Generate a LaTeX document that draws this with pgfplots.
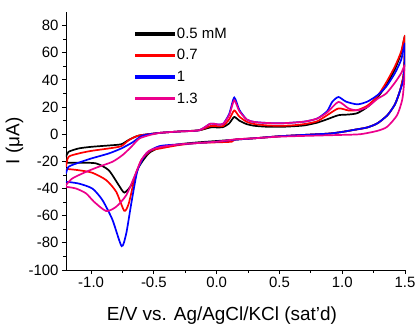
\documentclass[border=0pt]{standalone}
\usepackage{fontspec}
\setmainfont{Liberation Sans}
\usepackage{pgfplots}
\pgfplotsset{compat=1.18}
\begin{document}
\begin{tikzpicture}
\begin{axis}[
  name=ax,
  at={(0,0)}, anchor=south west,
  scale only axis,
  width=339bp, height=258bp,
  xmin=-1.2, xmax=1.5, ymin=-100, ymax=90,
  axis lines*=left,
  axis line style={line width=0.8bp},
  tick align=outside,
  tick style={black, line width=0.8bp},
  major tick length=4bp, minor tick length=2.5bp,
  xtick={-1.0,-0.5,0.0,0.5,1.0,1.5},
  minor x tick num=1,
  ytick={-100,-80,-60,-40,-20,0,20,40,60,80},
  minor y tick num=1,
  xticklabel style={/pgf/number format/.cd, fixed, fixed zerofill, precision=1},
  /pgf/number format/assume math mode=true,
  ticklabel style={font=\fontsize{15}{18}\selectfont},
  xlabel={E/V vs. Ag/AgCl/KCl (sat'd)},
  ylabel={I (μA)},
  label style={font=\fontsize{19}{22}\selectfont},
  xlabel style={at={(axis description cs:0.46,0)}, anchor=center, yshift=-46bp},
  ylabel style={at={(axis description cs:-0.152,0.5)}, anchor=center, rotate=0},
  legend style={at={(axis description cs:0.195,0.955)}, anchor=north west, draw=none, fill=none,
     font=\fontsize{15}{18}\selectfont, row sep=5.8bp},
  legend cell align=left,
  legend image code/.code={\fill[#1] (0bp,-0.9bp) rectangle (38bp,0.9bp);},
]
\addplot[black, line width=1.7bp, smooth, tension=0.4] coordinates {
(-1.2,-16.7) (-1.18,-13) (-1.1,-10.5) (-1.0,-9.3) (-0.86,-8.3) (-0.76,-7.4) (-0.70,-4.2) (-0.62,-1) (-0.45,1) (-0.3,2) (-0.14,2.9) (-0.05,5) (0.0,5) (0.05,5.2) (0.1,8) (0.14,12.7) (0.18,10) (0.24,7.4) (0.3,6.2) (0.4,5.5) (0.5,5.4) (0.6,5.8) (0.7,6.5) (0.8,8.5) (0.88,11) (0.97,14) (1.05,14.5) (1.12,15.5) (1.2,20) (1.28,27) (1.35,36) (1.42,48) (1.47,60) (1.5,72)
(1.49,45) (1.46,32) (1.42,22) (1.36,14) (1.28,8) (1.2,5) (1.1,3.3) (1.0,1.7) (0.9,0.5) (0.7,-0.5) (0.5,-1.5) (0.3,-3) (0.15,-4) (0.0,-5) (-0.15,-6) (-0.3,-7.4) (-0.45,-9.8) (-0.54,-14) (-0.62,-24) (-0.68,-37.5) (-0.735,-43) (-0.78,-37.5) (-0.86,-26.5) (-0.96,-21.5) (-1.1,-21) (-1.2,-21)
};
\addlegendentry{0.5 mM}
\addplot[red, line width=1.7bp, smooth, tension=0.4] coordinates {
(-1.2,-24) (-1.18,-16.7) (-1.1,-14.2) (-1.0,-12.3) (-0.86,-10.5) (-0.76,-8.8) (-0.70,-4.4) (-0.62,-1) (-0.45,1) (-0.3,2) (-0.14,2.9) (-0.05,6) (0.0,6) (0.05,6) (0.1,11) (0.14,17.5) (0.18,13) (0.24,9.1) (0.3,7.5) (0.4,6.5) (0.5,6.2) (0.6,6.5) (0.7,7.5) (0.8,9.5) (0.88,14) (0.97,19) (1.05,17.5) (1.12,17.8) (1.2,21) (1.28,28) (1.35,38) (1.42,50) (1.47,61) (1.5,72)
(1.49,45) (1.46,32) (1.42,22) (1.36,14) (1.28,8) (1.2,5) (1.1,3.3) (1.0,1.7) (0.9,0.5) (0.7,-0.5) (0.5,-1.5) (0.3,-3) (0.15,-3.8) (0.12,-5.5) (0.0,-6) (-0.15,-6.5) (-0.3,-8) (-0.45,-10.5) (-0.52,-12) (-0.60,-19) (-0.656,-33.8) (-0.70,-51) (-0.736,-56.4) (-0.80,-42.4) (-0.88,-33.8) (-0.99,-28.4) (-1.1,-26.5) (-1.2,-25.5)
};
\addlegendentry{0.7}
\addplot[blue, line width=1.7bp, smooth, tension=0.4] coordinates {
(-1.2,-29) (-1.18,-24) (-1.1,-21) (-1.0,-17.9) (-0.86,-14.2) (-0.76,-10.5) (-0.67,-6) (-0.59,-1) (-0.45,1) (-0.3,2) (-0.14,2.9) (-0.05,7.8) (0.0,7.3) (0.05,7.5) (0.1,15) (0.14,27) (0.18,18) (0.24,10.8) (0.3,9) (0.4,8.3) (0.5,8) (0.6,8.5) (0.7,9.3) (0.8,11.5) (0.88,17) (0.92,23.8) (0.97,27.4) (1.03,24) (1.12,22) (1.2,24) (1.28,28.7) (1.35,35) (1.42,45) (1.47,55) (1.5,66.7)
(1.49,42) (1.46,32) (1.42,22) (1.36,14) (1.28,8) (1.2,5) (1.1,3.3) (1.0,1.7) (0.9,0.5) (0.7,-0.5) (0.5,-1.5) (0.3,-3) (0.15,-4) (0.0,-5.5) (-0.15,-6.5) (-0.3,-7.5) (-0.456,-8.8) (-0.56,-14.2) (-0.63,-26.5) (-0.68,-51) (-0.72,-73) (-0.757,-82.4) (-0.83,-63) (-0.91,-48.5) (-0.99,-40) (-1.1,-36.3) (-1.2,-35)
};
\addlegendentry{1}
\addplot[magenta, line width=1.7bp, smooth, tension=0.4] coordinates {
(-1.2,-37.5) (-1.15,-32.6) (-1.04,-27.7) (-0.94,-24) (-0.83,-20.3) (-0.75,-15.4) (-0.68,-9.3) (-0.616,-3.2) (-0.536,-0.7) (-0.45,1) (-0.3,2) (-0.14,2.9) (-0.05,7.8) (0.0,7.3) (0.05,7.5) (0.1,14) (0.14,25) (0.18,17) (0.24,10.8) (0.3,9) (0.4,8.3) (0.5,8) (0.6,8.5) (0.7,9.3) (0.8,11.5) (0.88,16) (0.97,23.8) (1.05,19) (1.12,17.6) (1.2,20) (1.28,26) (1.35,30) (1.42,38) (1.47,45) (1.5,50.7)
(1.49,35) (1.477,25) (1.437,14) (1.357,5.4) (1.277,2.4) (1.144,0) (1.0,-0.5) (0.8,-1) (0.5,-1.8) (0.3,-3) (0.15,-3.8) (0.0,-5.5) (-0.15,-6.5) (-0.3,-7.5) (-0.45,-9.5) (-0.54,-12.3) (-0.6,-19) (-0.656,-31.4) (-0.72,-44.9) (-0.8,-53.4) (-0.88,-56.6) (-0.976,-49.8) (-1.04,-43.6) (-1.12,-40) (-1.2,-38.7)
};
\addlegendentry{1.3}
\end{axis}
\pgfresetboundingbox
\path[use as bounding box] (-66bp,-58bp) rectangle (352bp,270bp);
\end{tikzpicture}
\end{document}
